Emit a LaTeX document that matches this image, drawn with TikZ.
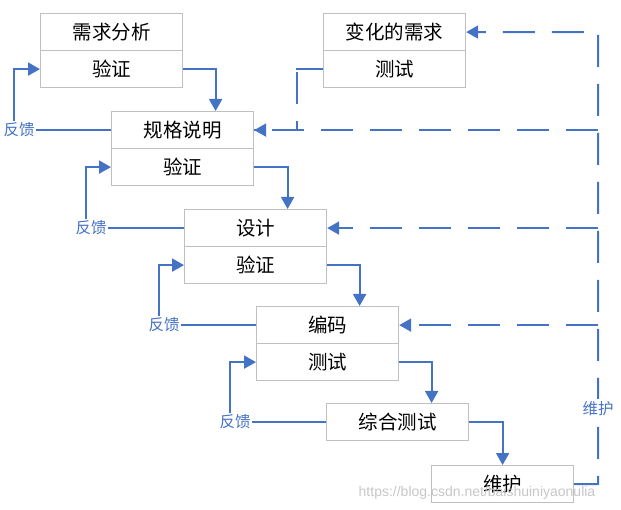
\documentclass[tikz,border=0pt]{standalone}
\usepackage{fontspec}
\newfontfamily\cjk{Noto Sans CJK SC}
\newfontfamily\wmfont{Liberation Sans}
\usetikzlibrary{arrows.meta}
\definecolor{myblue}{HTML}{4472C4}
\definecolor{boxgray}{HTML}{C0C0C0}
\begin{document}
\begin{tikzpicture}[x=1pt,y=-1pt,
  cell/.style={draw=boxgray, line width=1.2pt, fill=white, minimum width=142pt, minimum height=37pt,
    inner sep=0pt, anchor=north west, font=\cjk\fontsize{19.5}{22}\selectfont},
  fb/.style={text=myblue, font=\cjk\fontsize{15.5}{17}\selectfont, inner sep=1.5pt},
  flowline/.style={draw=myblue, line width=2pt},
  flowarrow/.style={flowline, -{Triangle[length=12pt,width=13pt]}},
  dashline/.style={draw=myblue, line width=2pt, dash pattern=on 32pt off 17pt},
  dasharrow/.style={dashline, -{Triangle[length=12pt,width=13pt]}}
]
\useasboundingbox (0,0) rectangle (621,510);

% boxes
\node[cell] (req)  at (40,13)  {需求分析};
\node[cell] (reqv) at (40,50)  {验证};
\node[cell] (chg)  at (323,13) {变化的需求};
\node[cell] (chgt) at (323,50) {测试};
\node[cell] (spec) at (111,111) {规格说明};
\node[cell] (specv) at (111,148) {验证};
\node[cell] (des)  at (184,209) {设计};
\node[cell] (desv) at (184,246) {验证};
\node[cell] (code) at (256,306) {编码};
\node[cell] (codet) at (256,343) {测试};
\node[cell] (integ) at (326,403) {综合测试};
\node[cell] (maint) at (431,465) {维护};

% watermark
\node[text=black!22, font=\wmfont\fontsize{14}{16}\selectfont, inner sep=0pt] (wm) at (477,493) {https://blog.csdn.net/baishuiniyaonulia};

% feedback labels
\node[fb] (fb1) at (spec.west -| 19,0) {反馈};
\node[fb] (fb2) at (des.west -| 91,0) {反馈};
\node[fb] (fb3) at (code.west -| 164,0) {反馈};
\node[fb] (fb4) at (integ.west -| 235,0) {反馈};

% forward arrows
\draw[flowarrow] (reqv.east) -| ([xshift=33pt]spec.north);
\draw[flowarrow] (specv.east) -| ([xshift=32pt]des.north);
\draw[flowarrow] (desv.east) -| ([xshift=32pt]code.north);
\draw[flowarrow] (codet.east) -| ([xshift=34pt]integ.north);
\draw[flowarrow] (integ.east) -| (maint.north);

% feedback
\draw[flowline] (spec.west) -- (fb1.east);
\draw[flowarrow] ([xshift=-5pt]fb1.north) |- (reqv.west);
\draw[flowline] (des.west) -- (fb2.east);
\draw[flowarrow] ([xshift=-5pt]fb2.north) |- (specv.west);
\draw[flowline] (code.west) -- (fb3.east);
\draw[flowarrow] ([xshift=-5pt]fb3.north) |- (desv.west);
\draw[flowline] (integ.west) -- (fb4.east);
\draw[flowarrow] ([xshift=-5pt]fb4.north) |- (codet.west);

% maintenance loop (dashed)
\coordinate (mc) at (598,484);
\coordinate (tc) at (598,32);
\coordinate (b1) at (spec.east -| 598,0);
\coordinate (b2) at (des.east -| 598,0);
\coordinate (b3) at (code.east -| 598,0);
\coordinate (tk) at (chgt.west -| 297,0);
\coordinate (tk2) at (spec.east -| 297,0);
\draw[dasharrow] (maint.east) -- (mc) -- (tc) -- (chg.east);
\draw[dasharrow] (b1) -- (spec.east);
\draw[dasharrow] (b2) -- (des.east);
\draw[dasharrow] (b3) -- (code.east);
\draw[flowline] (chgt.west) -- ([xshift=-1pt]tk);
\draw[dashline, dash phase=-3pt] (tk) -- (tk2) -- (spec.east);
\node[fb, fill=white, inner sep=3pt] (ml) at (598,409) {维护};
\end{tikzpicture}
\end{document}
